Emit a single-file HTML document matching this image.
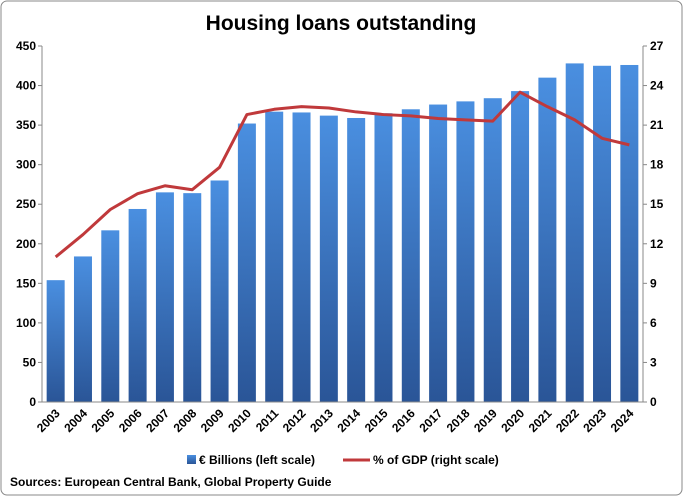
<!DOCTYPE html>
<html><head><meta charset="utf-8"><style>
body{margin:0;background:#fff;}
svg{font-family:"Liberation Sans",sans-serif;}
</style></head><body>
<svg id="c" width="683" height="496" xmlns="http://www.w3.org/2000/svg">
<defs>
<linearGradient id="bg" x1="0" y1="0" x2="0" y2="1">
<stop offset="0" stop-color="#4a8fe0"/><stop offset="1" stop-color="#2a5597"/>
</linearGradient>
</defs>
<rect x="1" y="1" width="681" height="494" rx="6" fill="#fff" stroke="#888"/>
<text x="341" y="30" text-anchor="middle" font-size="21" font-weight="bold">Housing loans outstanding</text>
<g id="g"></g>
<g>
<rect x="187" y="455" width="9" height="9" fill="url(#bg)"/>
<text x="199" y="464" font-size="12" font-weight="bold">€ Billions (left scale)</text>
<line x1="343" y1="460" x2="370" y2="460" stroke="#c0393b" stroke-width="3"/>
<text x="373" y="464" font-size="12" font-weight="bold">% of GDP (right scale)</text>
</g>
<text x="10" y="486" font-size="12" font-weight="bold">Sources: European Central Bank, Global Property Guide</text>
</svg>
<script>
const years=["2003","2004","2005","2006","2007","2008","2009","2010","2011","2012","2013","2014","2015","2016","2017","2018","2019","2020","2021","2022","2023","2024"];
const loans=[154,184,217,244,265,264,280,352,367,366,362,359,365,370,376,380,384,393,410,428,425,426];
const gdpPct=[11.0,12.7,14.6,15.8,16.4,16.1,17.8,21.8,22.2,22.4,22.3,22.0,21.8,21.7,21.5,21.4,21.3,23.5,22.4,21.4,20.0,19.5];
const leftTicks=[0,50,100,150,200,250,300,350,400,450];
const rightTicks=[0,3,6,9,12,15,18,21,24,27];
const NS="http://www.w3.org/2000/svg";
const g=document.getElementById('g');
const X0=42,X1=643,Y0=402,Y1=46;
const step=(X1-X0)/years.length;
const xc=i=>X0+step*(i+0.5);
const yl=v=>Y0-(v/450)*(Y0-Y1);
const yr=v=>Y0-(v/27)*(Y0-Y1);
function mk(t,a){const e=document.createElementNS(NS,t);for(const k in a)e.setAttribute(k,a[k]);g.appendChild(e);return e;}
leftTicks.forEach(v=>{
 const t=mk('text',{x:X0-6,y:yl(v)+4,'text-anchor':'end','font-size':12,'font-weight':'bold'});t.textContent=v;
 
 
 const l=mk('line',{x1:X0-4,x2:X0,y1:yl(v),y2:yl(v),stroke:'#888'});
 
 
});
rightTicks.forEach(v=>{
 const t=mk('text',{x:X1+7,y:yr(v)+4,'font-size':12,'font-weight':'bold'});t.textContent=v;
 
 
 const l=mk('line',{x1:X1,x2:X1+4,y1:yr(v),y2:yr(v),stroke:'#888'});
 
 
});
loans.forEach((v,i)=>{
 const r=mk('rect',{x:xc(i)-9,y:yl(v),width:18,height:Y0-yl(v),fill:'url(#bg)'});
 
 
 const t=mk('text',{x:xc(i)+5,y:Y0+12,'text-anchor':'end','font-size':12,'font-weight':'bold',transform:`rotate(-45 ${xc(i)+5} ${Y0+12})`});
 t.textContent=years[i];
 
 
});
let ax=mk('line',{x1:X0,x2:X0,y1:Y1,y2:Y0,stroke:'#888'});


ax=mk('line',{x1:X1,x2:X1,y1:Y1,y2:Y0,stroke:'#888'});


ax=mk('line',{x1:X0,x2:X1,y1:Y0,y2:Y0,stroke:'#888'});


const p=mk('polyline',{points:gdpPct.map((v,i)=>xc(i)+','+yr(v)).join(' '),fill:'none',stroke:'#c0393b','stroke-width':3,'stroke-linejoin':'round'});


</script>
</body></html>
